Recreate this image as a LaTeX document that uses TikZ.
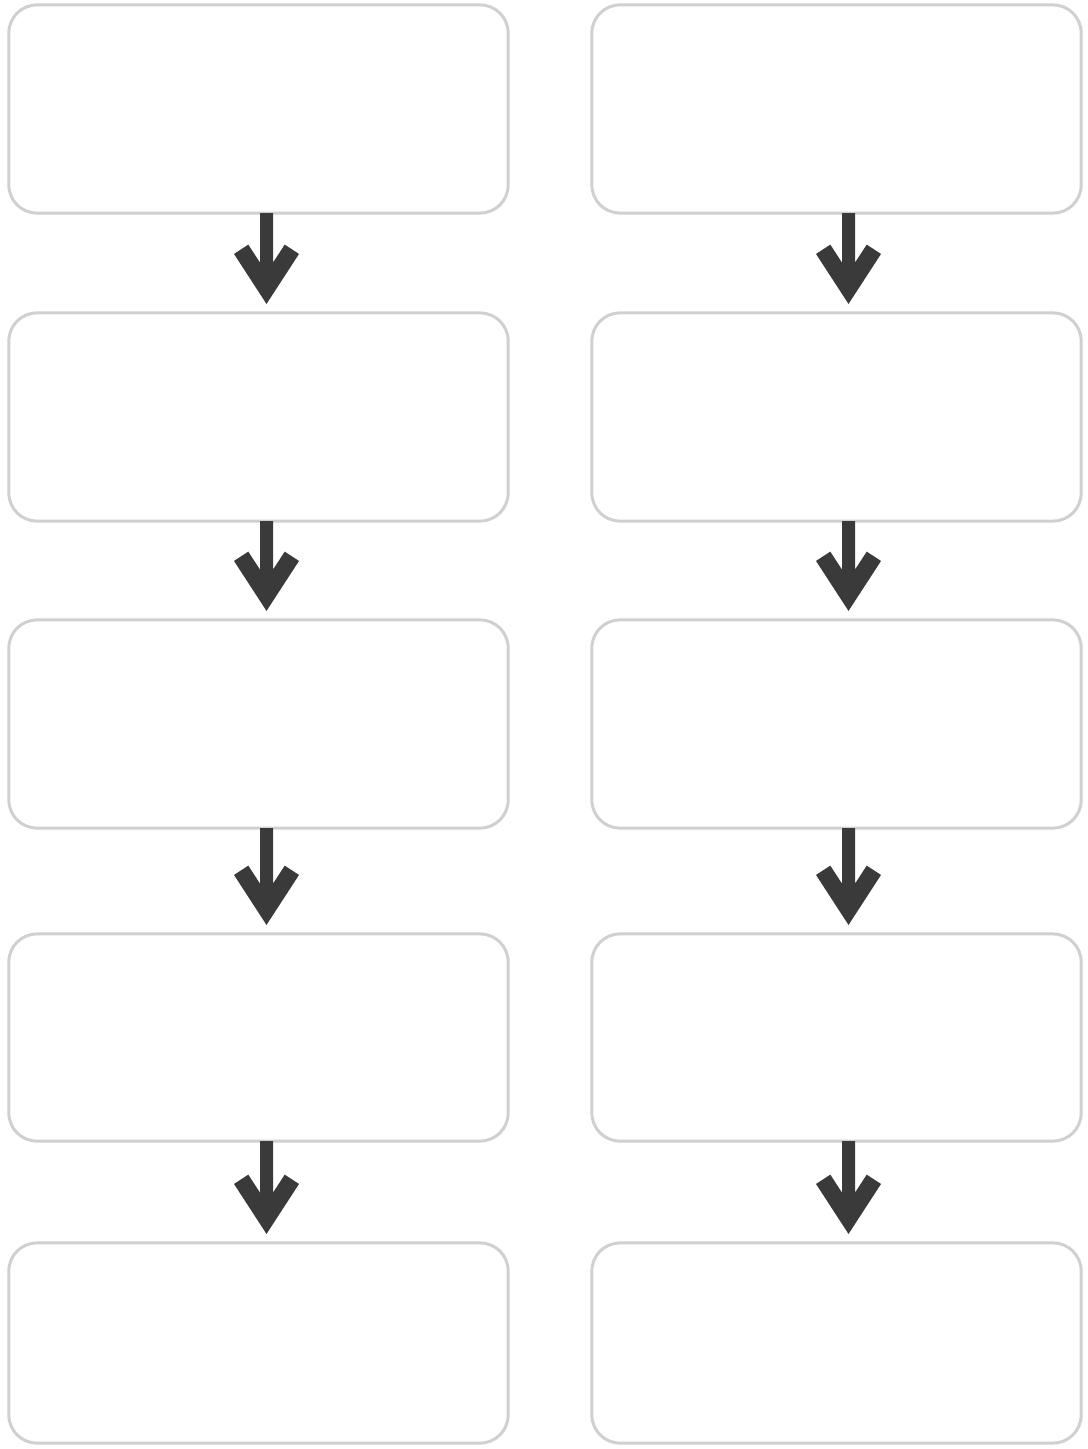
\documentclass[tikz,border=0pt]{standalone}
\usetikzlibrary{calc}
\definecolor{boxline}{RGB}{208,208,208}
\definecolor{arrowc}{RGB}{58,58,58}
\tikzset{
  flowbox/.style={draw=boxline, line width=0.85pt, fill=white, rounded corners=0.28cm,
    inner sep=0pt, outer sep=0pt, minimum width=#1},
  flowbox/.default=4.99cm,
  arrowfill/.style={fill=arrowc, draw=none}
}
% #1 source node, #2 target node, #3 x offset of arrow from box centre (px)
\newcommand\flowarrow[3]{%
  \fill[arrowfill]
    ($(#1.south)+(#3-6.5,0)$) --
    ($(#2.north)+(#3-6.5,-50.3)$) --
    ($(#2.north)+(#3-18.2,-68.3)$) --
    ($(#2.north)+(#3-32.5,-59)$) --
    ($(#2.north)+(#3,-9)$) --
    ($(#2.north)+(#3+32.5,-59)$) --
    ($(#2.north)+(#3+18.2,-68.3)$) --
    ($(#2.north)+(#3+6.5,-50.3)$) --
    ($(#1.south)+(#3+6.5,0)$) -- cycle;
}
\begin{document}
\begin{tikzpicture}[x=0.01cm, y=-0.01cm]
\useasboundingbox[fill=white] (0,0) rectangle (1087,1449);
% left column
\node[flowbox=4.99cm, minimum height=2.08cm] (L1) at (258.5,109) {};
\node[flowbox=4.99cm, minimum height=2.08cm] (L2) at (258.5,417) {};
\node[flowbox=4.99cm, minimum height=2.08cm] (L3) at (258.5,724) {};
\node[flowbox=4.99cm, minimum height=2.07cm] (L4) at (258.5,1037.5) {};
\node[flowbox=4.99cm, minimum height=2.00cm] (L5) at (258.5,1343) {};
% right column
\node[flowbox=4.89cm, minimum height=2.08cm] (R1) at (836.5,109) {};
\node[flowbox=4.89cm, minimum height=2.08cm] (R2) at (836.5,417) {};
\node[flowbox=4.89cm, minimum height=2.08cm] (R3) at (836.5,724) {};
\node[flowbox=4.89cm, minimum height=2.07cm] (R4) at (836.5,1037.5) {};
\node[flowbox=4.89cm, minimum height=2.00cm] (R5) at (836.5,1343) {};
% arrows
\flowarrow{L1}{L2}{8}
\flowarrow{L2}{L3}{8}
\flowarrow{L3}{L4}{8}
\flowarrow{L4}{L5}{8}
\flowarrow{R1}{R2}{12}
\flowarrow{R2}{R3}{12}
\flowarrow{R3}{R4}{12}
\flowarrow{R4}{R5}{12}
\end{tikzpicture}
\end{document}
